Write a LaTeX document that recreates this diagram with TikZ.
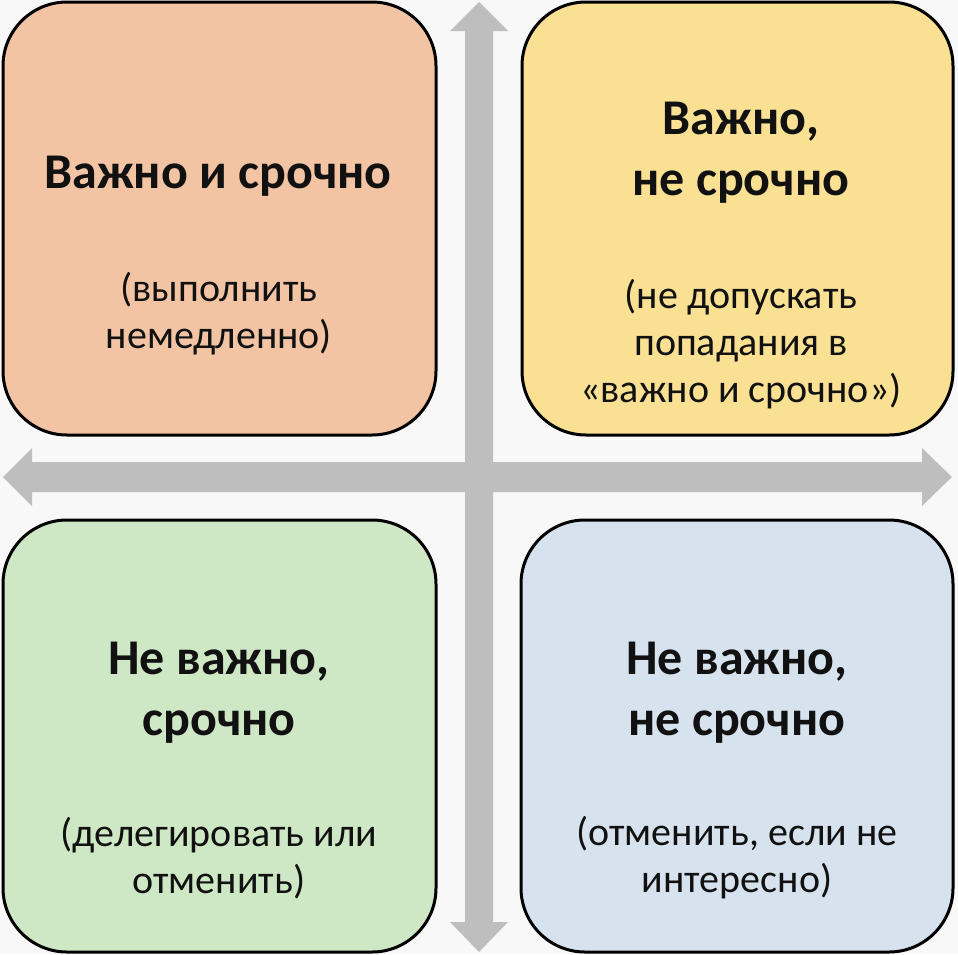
\documentclass[tikz,border=0pt]{standalone}
\usepackage{fontspec}
\setmainfont{Carlito}
\definecolor{bgc}{HTML}{F8F8F8}
\definecolor{peach}{HTML}{F3C4A4}
\definecolor{yell}{HTML}{F9E093}
\definecolor{grn}{HTML}{CEE8C5}
\definecolor{blu}{HTML}{D6E3EE}
\definecolor{arr}{HTML}{BEBEBE}
\definecolor{txt}{HTML}{111111}
\tikzset{
  quad/.style={draw=black, line width=3pt, rounded corners=64pt},
  ttl/.style={font=\bfseries\fontsize{50}{61}\selectfont, align=center, text=txt, inner sep=0pt},
  sub/.style={font=\fontsize{40}{47}\selectfont, align=center, text=txt, inner sep=0pt},
  axis/.style={fill=arr, draw=none}
}
\begin{document}
\begin{tikzpicture}[x=1pt,y=-1pt]
\fill[bgc] (0,0) rectangle (958,954);
\useasboundingbox (0,0) rectangle (958,954);
% axes
\coordinate (vtop) at (479,2);
\coordinate (vbot) at (479,952);
\coordinate (hl) at (3,477);
\coordinate (hr) at (952,477);
\fill[axis] (vtop) -- (508,31) -- (493,31) -- (493,922) -- (508,922) -- (vbot) -- (450,922) -- (465,922) -- (465,31) -- (450,31) -- cycle;
\fill[axis] (hl) -- (32,448) -- (32,462) -- (922,462) -- (922,448) -- (hr) -- (922,506) -- (922,492) -- (32,492) -- (32,506) -- cycle;
% quadrants
\filldraw[quad, fill=peach] (3,2) rectangle (436,435);
\filldraw[quad, fill=yell] (522,2) rectangle (953,435);
\filldraw[quad, fill=grn] (3,520) rectangle (436,952);
\filldraw[quad, fill=blu] (521,520) rectangle (953,952);
% texts
\node[ttl] (t1) at (218,176) {Важно и срочно};
\node[sub] (s1) at (219,314) {(выполнить\\немедленно)};
\node[ttl] (t2) at (741,153) {Важно,\\не срочно};
\node[sub] (s2) at (741,344) {(не допускать\\попадания в\\«важно и срочно»)};
\node[ttl] (t3) at (219,693) {Не важно,\\срочно};
\node[sub] (s3) at (219,858) {(делегировать или\\отменить)};
\node[ttl] (t4) at (737,693) {Не важно,\\не срочно};
\node[sub] (s4) at (737,858) {(отменить, если не\\интересно)};
\end{tikzpicture}
\end{document}
